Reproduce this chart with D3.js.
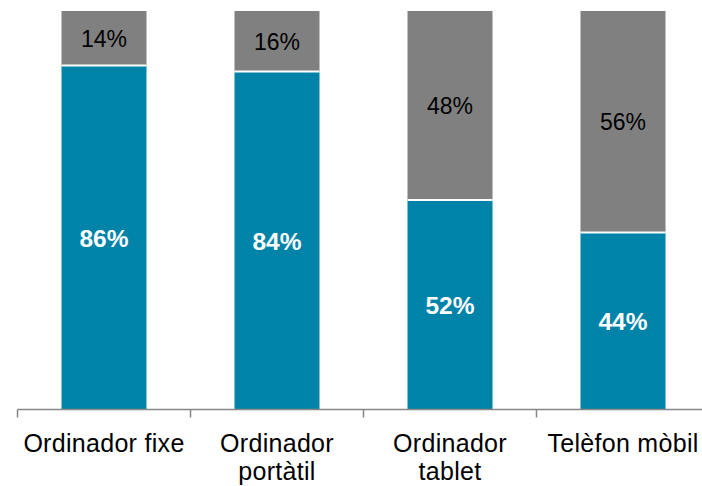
<!DOCTYPE html>
<html>
<head>
<meta charset="utf-8">
<script src="https://cdn.jsdelivr.net/npm/d3@7"></script>
<style>
  html, body { margin: 0; padding: 0; background: #fff; }
  svg { display: block; font-family: "Liberation Sans", Arial, sans-serif; }
</style>
</head>
<body>
<div id="chart"></div>
<script>
// categories, stacked shares (percent) and printed labels
const categories = ["Ordinador fixe", "Ordinador portàtil", "Ordinador tablet", "Telèfon mòbil"];
const blueValues = [86.3, 84.8, 52.6, 44.4];
const grayValues = [13.7, 15.2, 47.4, 55.6];
const blueLabels = ["86%", "84%", "52%", "44%"];
const grayLabels = ["14%", "16%", "48%", "56%"];

const width = 702, height = 486;
const axisY = 409.5, topY = 11;
const left = 17.5, step = 173;

const svg = d3.select("#chart").append("svg")
    .attr("width", width)
    .attr("height", height);

// scales
const x = d3.scaleBand()
    .domain(categories)
    .range([left, left + step * categories.length])
    .paddingInner(88 / 173)
    .paddingOuter(44 / 173);

const y = d3.scaleLinear()
    .domain([0, 100])
    .range([axisY, topY]);

const rows = categories.map((c, i) => ({
    cat: c, blue: blueValues[i], gray: grayValues[i],
    blueLabel: blueLabels[i], grayLabel: grayLabels[i]
}));

const bars = svg.append("g").selectAll("g.bar")
    .data(rows)
    .join("g")
    .attr("class", "bar");

// blue segment (bottom)
bars.append("rect")
    .attr("x", d => x(d.cat))
    .attr("width", x.bandwidth())
    .attr("y", d => y(d.blue))
    .attr("height", d => y(0) - y(d.blue))
    .attr("fill", "#0083a8");

// gray segment (top)
bars.append("rect")
    .attr("x", d => x(d.cat))
    .attr("width", x.bandwidth())
    .attr("y", d => y(d.blue + d.gray))
    .attr("height", d => y(d.blue) - y(d.blue + d.gray))
    .attr("fill", "#808080");

// white separator between segments
bars.append("line")
    .attr("x1", d => x(d.cat))
    .attr("x2", d => x(d.cat) + x.bandwidth())
    .attr("y1", d => y(d.blue))
    .attr("y2", d => y(d.blue))
    .attr("stroke", "#fff")
    .attr("stroke-width", 2);

// labels
bars.append("text")
    .attr("x", d => x(d.cat) + x.bandwidth() / 2)
    .attr("y", d => (y(0) + y(d.blue)) / 2 + 9)
    .attr("text-anchor", "middle")
    .attr("fill", "#fff")
    .attr("font-weight", "bold")
    .attr("font-size", "24.5px")
    .text(d => d.blueLabel);

bars.append("text")
    .attr("x", d => x(d.cat) + x.bandwidth() / 2)
    .attr("y", d => (y(d.blue) + y(d.blue + d.gray)) / 2 + 8.5)
    .attr("text-anchor", "middle")
    .attr("fill", "#000")
    .attr("font-size", "23px")
    .text(d => d.grayLabel);

// x axis: baseline and ticks at category boundaries
const axis = svg.append("g").attr("stroke", "#868686").attr("stroke-width", 1.5);
axis.append("line")
    .attr("x1", left).attr("x2", left + step * categories.length)
    .attr("y1", axisY).attr("y2", axisY);

const bounds = [categories[0]].concat(categories).map((c, i) => i === 0
    ? x(c) + x.bandwidth() / 2 - x.step() / 2
    : x(c) + x.bandwidth() / 2 + x.step() / 2);
axis.selectAll("line.tick")
    .data(bounds)
    .join("line")
    .attr("class", "tick")
    .attr("x1", d => d).attr("x2", d => d)
    .attr("y1", axisY).attr("y2", axisY + 8);

// category labels, wrapped to the band step
const labels = svg.append("g").selectAll("text")
    .data(categories)
    .join("text")
    .attr("x", d => x(d) + x.bandwidth() / 2)
    .attr("y", 452)
    .attr("text-anchor", "middle")
    .attr("font-size", "25px")
    .attr("letter-spacing", "0.3px")
    .attr("fill", "#000");

labels.each(function(d) {
    const t = d3.select(this);
    const cx = x(d) + x.bandwidth() / 2;
    t.text(d);
    if (this.getComputedTextLength() <= step) return;
    const words = d.split(" ");
    t.text(null);
    let line = [];
    let tspan = t.append("tspan").attr("x", cx).attr("dy", 0);
    words.forEach(w => {
        line.push(w);
        tspan.text(line.join(" "));
        if (tspan.node().getComputedTextLength() > step && line.length > 1) {
            line.pop();
            tspan.text(line.join(" "));
            line = [w];
            tspan = t.append("tspan").attr("x", cx).attr("dy", 28).text(w);
        }
    });
});
</script>
</body>
</html>
